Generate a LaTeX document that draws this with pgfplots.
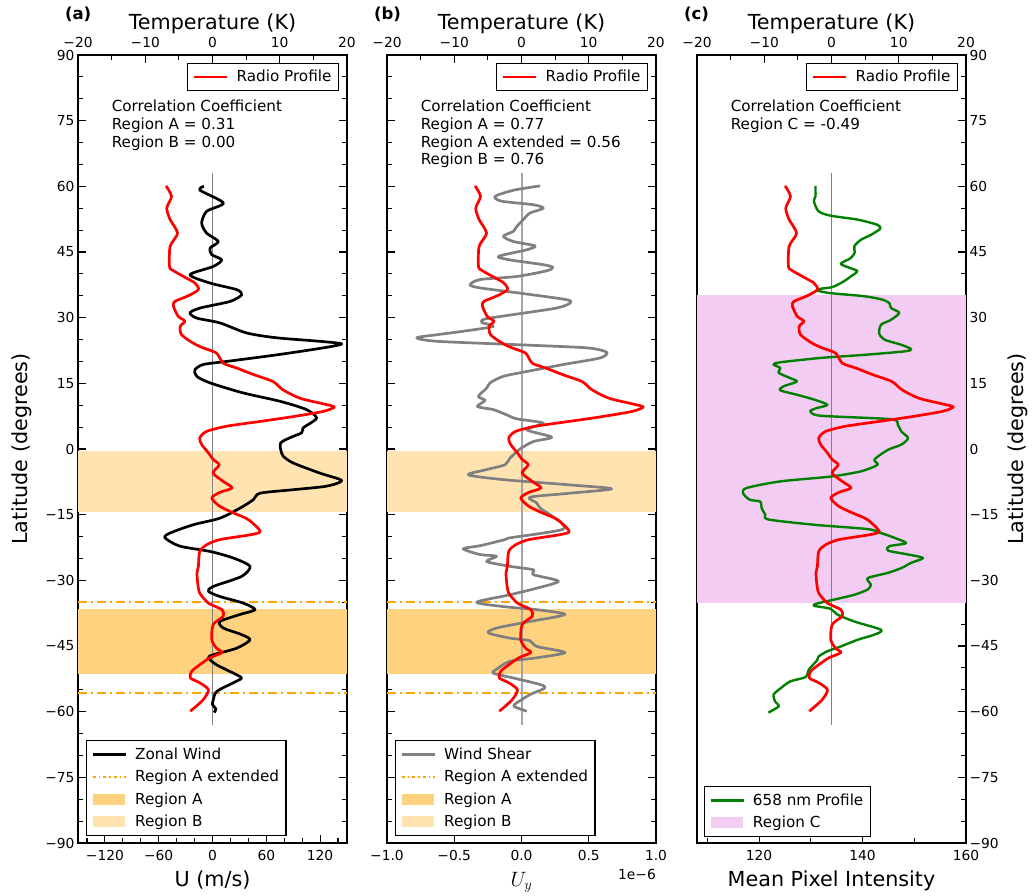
\documentclass[border=0pt]{standalone}
\usepackage{pgfplots}
\usepackage{pgfplotstable}
\pgfplotsset{compat=1.18}
\usepackage{fontspec}
\setmainfont{DejaVu Sans}
\definecolor{regA}{RGB}{255,210,127}
\definecolor{regB}{RGB}{255,228,178}
\definecolor{regC}{RGB}{242,204,242}
\definecolor{mplorange}{RGB}{255,165,0}
\definecolor{mplgreen}{RGB}{0,128,0}
\definecolor{sheargray}{RGB}{128,128,128}
\definecolor{zerogray}{RGB}{128,128,128}
\definecolor{zerograyb}{RGB}{165,165,165}
\newcommand{\tickfont}{\fontsize{13.8}{16}\selectfont}
\newcommand{\legfont}{\fontsize{15.2}{17.7}\selectfont}
\newcommand{\labfont}{\fontsize{20.7}{24}\selectfont}
\newcommand{\panfont}{\bfseries\fontsize{16.5}{19}\selectfont}

% Radio temperature profile (K) vs latitude
\pgfplotstableread{
T lat
-6.9 60.1
-6.1 57.7
-6.8 55.0
-6.3 52.4
-5.2 49.3
-6.3 46.3
-6.4 41.7
-6.0 40.9
-4.3 39.4
-2.6 37.9
-2.1 36.4
-3.6 35.0
-5.6 33.7
-5.8 32.6
-5.1 30.3
-4.1 29.2
-4.8 28.0
-4.6 26.1
-2.9 24.2
-1.4 23.1
0.6 21.9
1.6 19.6
3.6 18.5
6.1 17.0
9.0 15.4
10.5 13.5
13.0 11.6
16.5 10.3
18.1 9.6
16.5 8.6
12.0 7.4
7.1 6.3
2.1 5.2
-0.9 4.0
-1.9 2.5
-1.6 1.0
-0.6 -0.9
0.1 -2.4
1.0 -3.6
0.1 -5.5
1.6 -7.4
2.9 -8.9
1.1 -9.9
-0.1 -11.2
1.1 -13.1
3.1 -14.6
5.3 -16.1
7.1 -18.8
5.6 -19.6
1.1 -20.7
-0.9 -21.9
-1.9 -23.4
-2.1 -26.8
-2.3 -28.3
-2.2 -30.6
-1.9 -32.9
-0.6 -35.2
1.4 -36.7
1.6 -38.2
0.1 -40.1
-0.1 -43.6
0.6 -45.5
1.4 -46.5
-0.4 -47.7
-1.9 -49.3
-3.1 -50.8
-3.3 -52.3
-1.9 -53.4
-0.6 -55.0
-1.4 -57.3
-3.3 -59.9
}\radio

% Zonal wind U (m/s)
\pgfplotstableread{
U lat
-9.5 60.0
-13.9 59.1
12.1 56.2
-6.5 54.3
-12.1 51.6
-6.5 49.3
6.5 47.4
-2.7 45.9
-0.9 44.4
10.3 43.2
0.9 41.7
-25.1 39.8
-2.7 37.9
27.0 36.4
32.5 35.2
19.5 33.7
-13.9 32.2
-25.1 31.1
-17.6 29.9
8.3 28.8
38.1 26.5
71.5 25.4
119.6 24.6
144.1 24.0
123.5 23.1
71.5 21.5
15.7 20.0
-10.3 19.3
-19.6 18.1
-17.6 16.6
-2.7 15.1
34.3 12.8
75.3 10.9
104.9 9.0
116.1 7.1
106.8 5.6
100.9 4.8
99.5 3.7
90.2 2.9
76.0 1.4
77.0 -0.9
79.0 -1.7
90.0 -3.2
119.6 -5.5
144.0 -7.2
127.0 -8.5
90.0 -9.3
53.0 -10.1
45.5 -11.6
30.7 -13.5
8.3 -15.8
-21.4 -17.3
-47.4 -19.2
-53.0 -20.3
-36.3 -22.2
-2.7 -23.4
23.2 -24.9
41.8 -26.8
32.5 -29.1
0.9 -31.4
-4.6 -32.5
8.3 -33.7
34.3 -35.2
47.4 -36.7
30.7 -37.8
8.3 -39.4
12.1 -40.9
32.5 -42.4
41.8 -43.6
27.0 -45.5
0.9 -47.0
-4.6 -47.7
4.6 -49.3
23.2 -51.2
32.5 -52.3
23.2 -53.4
4.6 -55.4
0.9 -57.3
0.0 -58.4
3.9 -59.4
1.7 -60.2
}\zonal

% Wind shear U_y (1e-6)
\pgfplotstableread{
S lat
0.138 60.1
-0.061 59.1
-0.197 57.7
-0.147 56.6
0.088 55.8
0.162 55.0
0.063 53.9
0.013 52.4
-0.036 50.8
-0.061 49.7
-0.135 48.6
-0.061 47.4
0.100 46.4
0.039 45.5
-0.172 44.0
-0.086 43.2
0.162 42.1
0.232 41.5
0.187 40.7
-0.036 39.4
-0.309 38.7
-0.383 37.5
-0.309 36.8
-0.011 35.6
0.336 34.1
0.360 33.3
0.262 32.2
-0.061 30.7
-0.271 29.7
-0.296 28.9
-0.210 28.0
-0.433 26.9
-0.630 26.1
-0.779 25.4
-0.630 24.6
-0.011 23.8
0.485 23.1
0.633 22.1
0.584 20.8
0.311 19.3
0.039 17.7
-0.135 16.6
-0.234 15.1
-0.259 13.9
-0.321 12.0
-0.271 11.1
-0.328 9.7
-0.210 9.0
-0.110 7.8
-0.036 6.9
0.162 5.9
0.039 4.4
0.224 2.7
0.088 1.7
-0.011 0.0
-0.086 -2.1
-0.123 -3.6
-0.259 -4.7
-0.395 -5.9
-0.135 -7.0
0.360 -8.2
0.670 -9.1
0.360 -10.1
0.063 -11.0
0.113 -12.3
0.138 -13.5
0.212 -15.0
0.299 -16.9
0.311 -18.3
0.162 -19.2
-0.086 -20.3
-0.123 -20.7
-0.309 -22.1
-0.433 -22.8
-0.309 -24.1
-0.185 -24.5
-0.259 -25.7
-0.086 -26.8
0.088 -27.6
0.088 -28.7
0.274 -30.2
0.113 -31.8
-0.086 -33.3
-0.333 -35.0
-0.135 -36.0
0.113 -36.7
0.323 -37.8
0.063 -39.4
-0.185 -40.9
-0.247 -42.0
-0.086 -43.2
0.063 -43.8
0.113 -45.1
0.323 -46.5
0.113 -47.7
-0.086 -48.5
-0.185 -50.3
-0.210 -51.2
-0.061 -52.3
0.138 -53.8
0.174 -54.6
0.063 -56.1
-0.036 -58.0
-0.056 -58.8
0.039 -59.9
}\shear

% 658 nm mean pixel intensity
\pgfplotstableread{
I lat
130.9 60.1
130.9 57.7
130.6 56.6
131.5 54.3
133.8 53.3
139.0 52.4
142.9 51.2
143.4 50.3
141.6 48.9
139.7 47.8
138.4 46.3
138.5 44.9
137.7 43.6
135.8 42.3
137.7 41.3
139.0 40.6
137.7 39.4
136.4 38.3
134.2 37.0
131.9 36.6
131.2 36.2
133.8 35.6
140.3 34.9
143.9 34.1
145.2 33.3
145.5 32.2
147.1 31.1
145.5 29.5
143.6 28.4
143.2 26.5
144.2 25.0
147.5 23.8
149.4 22.8
148.1 22.3
140.3 21.5
131.9 20.8
124.1 19.8
122.8 19.3
124.1 18.5
123.8 17.4
126.0 16.2
127.3 15.4
124.7 14.3
124.1 13.4
127.3 12.4
130.6 11.3
133.2 10.1
131.0 9.3
129.9 8.6
131.9 7.6
145.5 6.8
146.8 5.6
147.5 4.0
148.8 2.5
147.5 1.0
144.9 -0.2
142.3 -2.4
142.9 -3.6
139.7 -5.1
133.8 -6.3
124.1 -7.4
117.6 -8.9
116.9 -10.1
118.2 -11.6
120.2 -12.0
120.5 -13.5
121.2 -15.0
121.8 -16.1
130.6 -17.3
141.0 -18.3
143.6 -19.2
146.2 -20.3
148.4 -21.5
145.2 -22.2
144.9 -23.2
148.8 -24.1
151.7 -24.9
149.4 -26.0
147.5 -27.2
144.9 -28.3
141.0 -29.5
141.6 -31.0
141.0 -32.1
138.4 -33.3
134.5 -34.4
131.2 -35.3
130.6 -35.8
133.8 -36.5
135.1 -37.8
138.4 -39.4
143.6 -41.3
142.3 -42.4
139.0 -43.6
135.8 -45.1
133.2 -46.2
131.5 -47.4
131.2 -48.3
129.6 -50.4
129.0 -52.1
126.0 -53.1
123.8 -55.0
122.8 -56.1
123.1 -57.7
123.8 -58.8
121.8 -60.2
}\green

\pgfplotsset{
  myarea/.style={legend image code/.code={\fill[##1] (0pt,-5.5pt) rectangle (32pt,5.5pt); \path (39pt,0pt);}},
  common/.style={
    scale only axis, width=269pt, height=788pt, anchor=south west,
    ymin=-90, ymax=90,
    major tick length=8pt, minor tick length=5pt,
    tick style={black, line width=1.1pt},
    axis line style={line width=1.1pt},
    tick label style={font=\tickfont},
    label style={font=\labfont},
    legend style={font=\legfont, draw=black, line width=1.1pt, inner xsep=5pt, inner ysep=5pt, row sep=5.5pt, cells={anchor=west}, fill=white},
    legend image code/.code={\draw[##1] (0pt,0pt) -- (33pt,0pt); \path (39pt,0pt);},
    clip mode=individual,
  },
  panel/.style={
    common,
    ytick={-90,-75,...,90},
    yticklabels={−90,−75,−60,−45,−30,−15,0,15,30,45,60,75,90},
    minor y tick num=2,
    tick align=inside,
    xtick pos=left,
    xticklabel style={yshift=-3.5pt},
    xlabel style={at={(axis description cs:0.5,-0.0555)}, anchor=base},
  },
  tempaxis/.style={
    common,
    xmin=-20, xmax=20,
    axis x line*=top, axis y line=none,
    xtick={-20,-10,...,20}, xticklabels={−20,−10,0,10,20},
    minor x tick num=1,
    xtick align=inside,
    xticklabel style={yshift=3.5pt},
    xlabel={Temperature (K)},
    xlabel style={at={(axis description cs:0.5,1.0326)}, anchor=base},
    legend style={at={(axis description cs:0.970,0.990)}, anchor=north east},
  },
  curve/.style={line width=2.7pt, line join=round, smooth, tension=0.45},
}

\begin{document}
\begin{tikzpicture}
\useasboundingbox (0,0) rectangle (1034pt,896pt);

% ================= panel (a) =================
\begin{axis}[panel, at={(78pt,53pt)},
  xmin=-150, xmax=150,
  xtick={-120,-60,0,60,120}, xticklabels={−120,−60,0,60,120},
  minor xtick={-140,-100,-80,-40,-20,20,40,80,100,140},
  ytick pos=both, yticklabel pos=left,
  xlabel={U (m/s)}, ylabel={Latitude (degrees)},
  ylabel style={at={(axis description cs:-0.208,0.5)}, anchor=center},
  legend style={at={(axis description cs:0.0297,0.0089)}, anchor=south west},
]
\addlegendimage{black, line width=2.7pt}\addlegendentry{Zonal Wind}
\addlegendimage{mplorange, line width=2.2pt, dash pattern=on 3pt off 3pt on 1.5pt off 3pt}\addlegendentry{Region A extended}
\addlegendimage{myarea, fill=regA, draw=none}\addlegendentry{Region A}
\addlegendimage{myarea, fill=regB, draw=none}\addlegendentry{Region B}
\addplot[forget plot, fill=regB, draw=none] coordinates {(-150,-14.5) (150,-14.5) (150,-0.5) (-150,-0.5)} -- cycle;
\addplot[forget plot, fill=regA, draw=none] coordinates {(-150,-51.4) (150,-51.4) (150,-36.5) (-150,-36.5)} -- cycle;
\addplot[forget plot, mplorange, line width=2.2pt, dash pattern=on 9pt off 4pt on 2pt off 4pt] coordinates {(-150,-35) (150,-35)};
\addplot[forget plot, mplorange, line width=2.2pt, dash pattern=on 9pt off 4pt on 2pt off 4pt] coordinates {(-150,-55.7) (150,-55.7)};
\addplot[forget plot, zerogray, line width=1pt] coordinates {(0,-63) (0,63)};
\addplot[forget plot, black, curve] table[x=U, y=lat] {\zonal};
\end{axis}
\begin{axis}[tempaxis, at={(78pt,53pt)}]
\addplot[red, curve] table[x=T, y=lat] {\radio};
\addlegendentry{Radio Profile}
\node[anchor=north west, align=left, inner sep=0pt, font=\legfont] at (axis description cs:0.125,0.943) {Correlation Coefficient\\Region A = 0.31\\Region B = 0.00};
\node[anchor=base west, inner sep=0pt, font=\panfont] at (axis description cs:-0.049,1.0453) {(a)};
\end{axis}

% ================= panel (b) =================
\begin{axis}[panel, at={(387pt,53pt)},
  xmin=-1, xmax=1,
  xtick={-1,-0.5,0,0.5,1}, xticklabels={−1.0,−0.5,0.0,0.5,1.0},
  ytick pos=both, yticklabels={},
  xlabel={$U_y$},
  legend style={at={(axis description cs:0.0297,0.0089)}, anchor=south west},
]
\addlegendimage{sheargray, line width=2.7pt}\addlegendentry{Wind Shear}
\addlegendimage{mplorange, line width=2.2pt, dash pattern=on 3pt off 3pt on 1.5pt off 3pt}\addlegendentry{Region A extended}
\addlegendimage{myarea, fill=regA, draw=none}\addlegendentry{Region A}
\addlegendimage{myarea, fill=regB, draw=none}\addlegendentry{Region B}
\addplot[forget plot, fill=regB, draw=none] coordinates {(-1,-14.5) (1,-14.5) (1,-0.5) (-1,-0.5)} -- cycle;
\addplot[forget plot, fill=regA, draw=none] coordinates {(-1,-51.4) (1,-51.4) (1,-36.5) (-1,-36.5)} -- cycle;
\addplot[forget plot, mplorange, line width=2.2pt, dash pattern=on 9pt off 4pt on 2pt off 4pt] coordinates {(-1,-35) (1,-35)};
\addplot[forget plot, mplorange, line width=2.2pt, dash pattern=on 9pt off 4pt on 2pt off 4pt] coordinates {(-1,-55.7) (1,-55.7)};
\addplot[forget plot, zerograyb, line width=2pt] coordinates {(0,-63) (0,63)};
\addplot[forget plot, sheargray, curve] table[x=S, y=lat] {\shear};
\node[anchor=base east, inner sep=0pt, font=\tickfont] at (axis description cs:1,-0.0457) {1e−6};
\end{axis}
\begin{axis}[tempaxis, at={(387pt,53pt)}]
\addplot[red, curve] table[x=T, y=lat] {\radio};
\addlegendentry{Radio Profile}
\node[anchor=north west, align=left, inner sep=0pt, font=\legfont] at (axis description cs:0.125,0.943) {Correlation Coefficient\\Region A = 0.77\\Region A extended = 0.56\\Region B = 0.76};
\node[anchor=base west, inner sep=0pt, font=\panfont] at (axis description cs:-0.049,1.0453) {(b)};
\end{axis}

% ================= panel (c) =================
\begin{axis}[panel, at={(697pt,53pt)},
  xmin=108, xmax=160,
  xtick={120,140,160}, xticklabels={120,140,160},
  minor xtick={110,130,150},
  ytick pos=right, yticklabel pos=right,
  xlabel={Mean Pixel Intensity}, ylabel={Latitude (degrees)},
  ylabel style={at={(axis description cs:1.193,0.5)}, anchor=center},
  legend style={at={(axis description cs:0.026,0.0076)}, anchor=south west},
]
\addlegendimage{mplgreen, line width=2.4pt}\addlegendentry{658 nm Profile}
\addlegendimage{myarea, fill=regC, draw=none}\addlegendentry{Region C}
\addplot[forget plot, fill=regC, draw=none] coordinates {(108,-35.2) (160,-35.2) (160,35.2) (108,35.2)} -- cycle;
\addplot[forget plot, zerogray, line width=1pt] coordinates {(134,-63) (134,63)};
\addplot[forget plot, mplgreen, curve, line width=2.4pt] table[x=I, y=lat] {\green};
\end{axis}
\begin{axis}[tempaxis, at={(697pt,53pt)}]
\addplot[red, curve] table[x=T, y=lat] {\radio};
\addlegendentry{Radio Profile}
\node[anchor=north west, align=left, inner sep=0pt, font=\legfont] at (axis description cs:0.125,0.943) {Correlation Coefficient\\Region C = -0.49};
\node[anchor=base west, inner sep=0pt, font=\panfont] at (axis description cs:-0.049,1.0453) {(c)};
\end{axis}
\end{tikzpicture}
\end{document}
